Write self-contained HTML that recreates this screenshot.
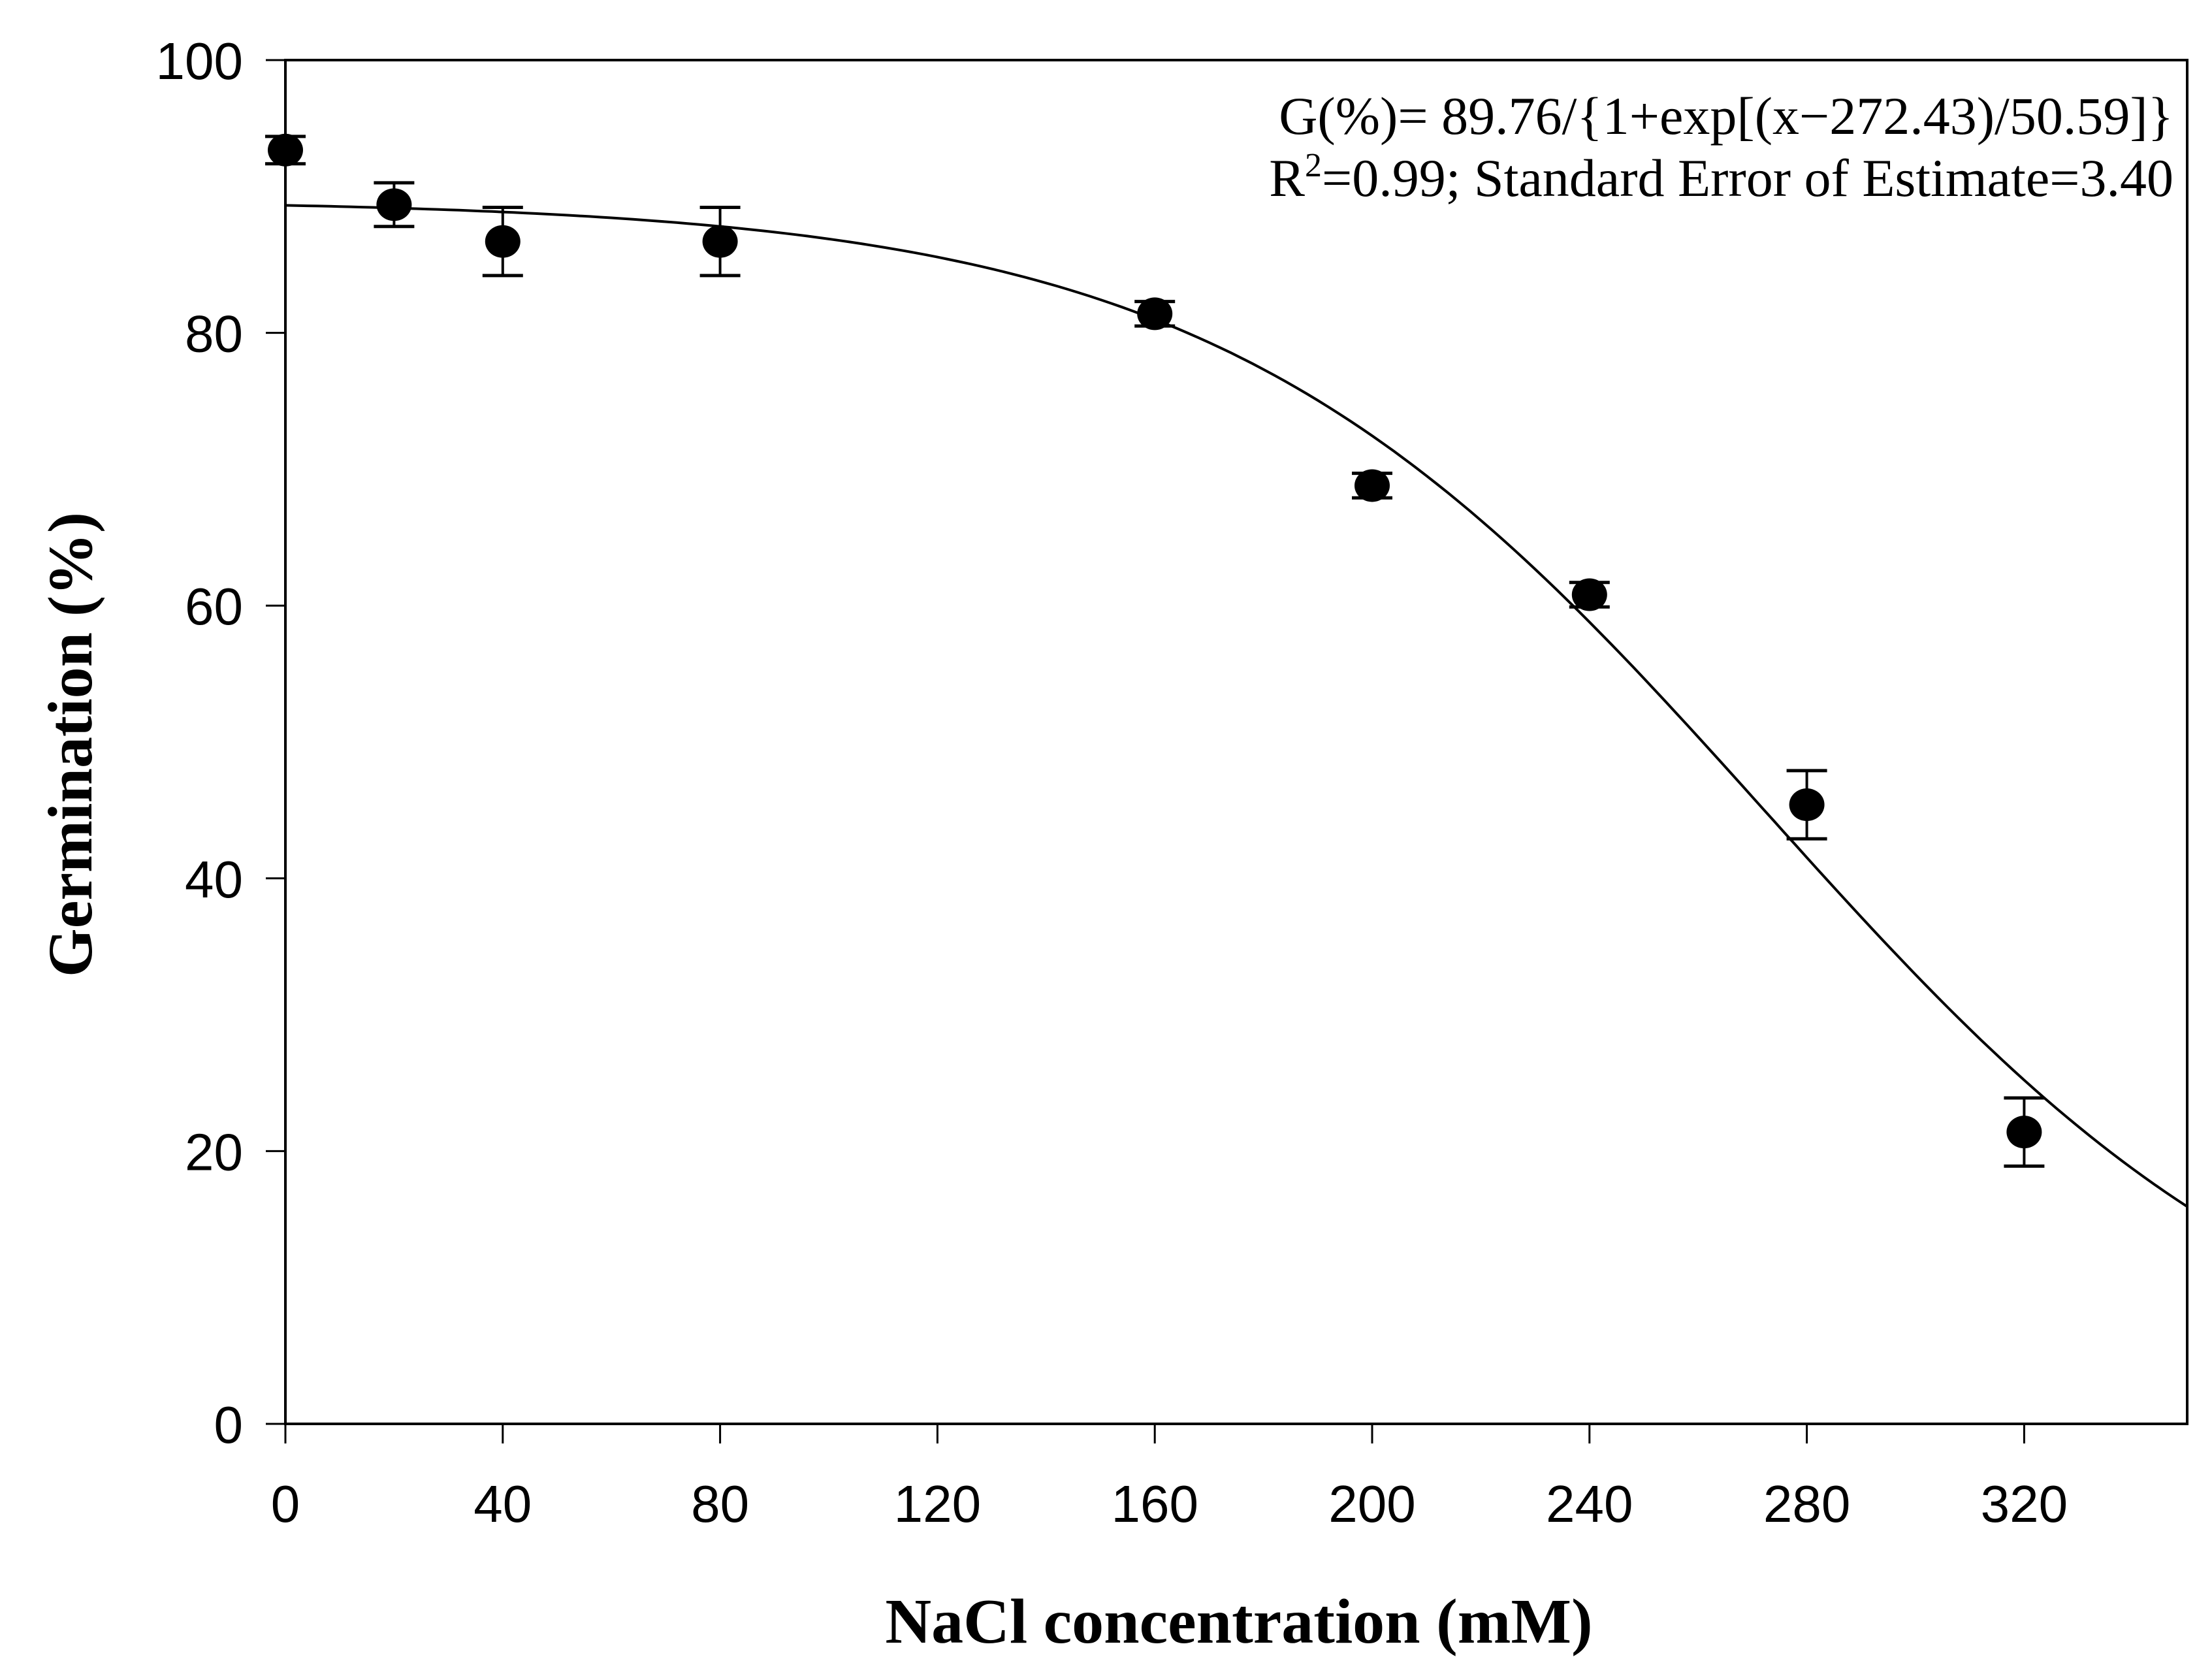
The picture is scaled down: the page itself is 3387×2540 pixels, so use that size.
<!DOCTYPE html>
<html><head><meta charset="utf-8"><style>
html,body{margin:0;padding:0;background:#fff;}
svg{display:block;}
</style></head><body>
<svg id="chart" width="3387" height="2540" viewBox="0 0 3387 2540" xmlns="http://www.w3.org/2000/svg">
<g id="axes"></g>
<g id="marks"></g>
<text x="3328" y="205" text-anchor="end" font-family="Liberation Serif, serif" font-size="82">G(%)= 89.76/{1+exp[(x−272.43)/50.59]}</text>
<text x="3328" y="300" text-anchor="end" font-family="Liberation Serif, serif" font-size="82">R<tspan dy="-30" font-size="52">2</tspan><tspan dy="30">=0.99; Standard Error of Estimate=3.40</tspan></text>
<text x="1897" y="2515" text-anchor="middle" font-family="Liberation Serif, serif" font-weight="bold" font-size="98">NaCl concentration (mM)</text>
<text transform="translate(140,1140) rotate(-90)" text-anchor="middle" font-family="Liberation Serif, serif" font-weight="bold" font-size="96">Germination (%)</text>
</svg>
<script>
const xValues = [0, 20, 40, 80, 160, 200, 240, 280, 320];
const yValues = [93.4, 89.4, 86.7, 86.7, 81.4, 68.8, 60.8, 45.4, 21.4];
const yErrors = [1.0, 1.6, 2.5, 2.5, 0.9, 0.9, 0.9, 2.5, 2.5];
const xTicks = [0, 40, 80, 120, 160, 200, 240, 280, 320];
const yTicks = [0, 20, 40, 60, 80, 100];
const fitParams = [89.76, 272.43, 50.59];

const NS = 'http://www.w3.org/2000/svg';
const X0 = 437, X1 = 3349, Y0 = 2180, Y1 = 92;
const xMax = 350, yMax = 100;
function sx(v){ return X0 + (X1 - X0) * v / xMax; }
function sy(v){ return Y0 - (Y0 - Y1) * v / yMax; }
function mk(tag, attrs, parent){ const e = document.createElementNS(NS, tag); for (const k in attrs) e.setAttribute(k, attrs[k]); parent.appendChild(e); return e; }

const axes = document.getElementById('axes');
const marks = document.getElementById('marks');

let frame = mk('rect', {x:X0, y:Y1, width:X1-X0, height:Y0-Y1, fill:'none', stroke:'#000', 'stroke-width':4}, axes);



xTicks.forEach(t => {
  const l = mk('line', {x1:sx(t), x2:sx(t), y1:Y0, y2:Y0+30, stroke:'#000', 'stroke-width':3}, axes);
  
  
  const tx = mk('text', {x:sx(t), y:2330, 'text-anchor':'middle', 'font-family':'Liberation Sans, sans-serif', 'font-size':80}, axes);
  tx.textContent = t;
  
  
});
yTicks.forEach(t => {
  const l = mk('line', {x1:X0-30, x2:X0, y1:sy(t), y2:sy(t), stroke:'#000', 'stroke-width':3}, axes);
  
  
  const tx = mk('text', {x:372, y:sy(t)+29, 'text-anchor':'end', 'font-family':'Liberation Sans, sans-serif', 'font-size':80}, axes);
  tx.textContent = t;
  
  
});

let d = '';
for (let x = 0; x <= xMax; x += 2) {
  const y = fitParams[0] / (1 + Math.exp((x - fitParams[1]) / fitParams[2]));
  d += (x === 0 ? 'M' : 'L') + sx(x).toFixed(1) + ',' + sy(y).toFixed(1);
}
const curve = mk('path', {d:d, fill:'none', stroke:'#000', 'stroke-width':4}, marks);



xValues.forEach((x, i) => {
  const cx = sx(x), y = yValues[i], e = yErrors[i];
  const g = mk('g', {}, marks);
  
  
  mk('line', {x1:cx, x2:cx, y1:sy(y+e), y2:sy(y-e), stroke:'#000', 'stroke-width':4}, g);
  mk('line', {x1:cx-31, x2:cx+31, y1:sy(y+e), y2:sy(y+e), stroke:'#000', 'stroke-width':5}, g);
  mk('line', {x1:cx-31, x2:cx+31, y1:sy(y-e), y2:sy(y-e), stroke:'#000', 'stroke-width':5}, g);
  mk('ellipse', {cx:cx, cy:sy(y), rx:27, ry:25, fill:'#000'}, g);
});
</script>
</body></html>
